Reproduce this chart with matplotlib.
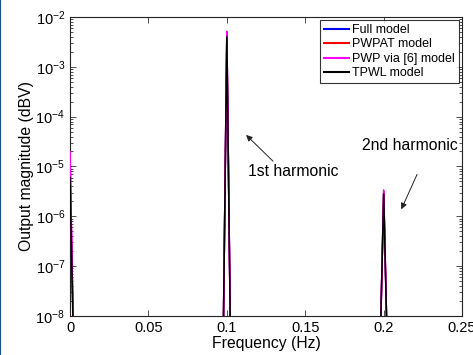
import matplotlib
matplotlib.use("Agg")
import matplotlib.pyplot as plt
from matplotlib.lines import Line2D
from matplotlib.ticker import LogLocator, LogFormatterMathtext
import numpy as np

plt.rcParams["font.family"] = ["Liberation Sans", "DejaVu Sans"]
plt.rcParams["mathtext.fontset"] = "custom"
plt.rcParams["mathtext.rm"] = "Liberation Sans"
plt.rcParams["mathtext.it"] = "Liberation Sans:italic"

# spectrum samples (frequency in Hz, magnitude)
freq = [0.0, 0.0025, 0.0975, 0.1, 0.1025, 0.1975, 0.2, 0.2025]
full_model = [1.5e-5, 1e-9, 1e-9, 5.0e-3, 1e-9, 1e-9, 3.2e-6, 1e-9]
pwpat_model = [1.6e-5, 1e-9, 1e-9, 5.0e-3, 1e-9, 1e-9, 3.2e-6, 1e-9]
pwp_model = [2.0e-5, 1e-9, 1e-9, 5.2e-3, 1e-9, 1e-9, 3.4e-6, 1e-9]
tpwl_model = [6.0e-6, 1e-9, 1e-9, 4.0e-3, 1e-9, 1e-9, 2.8e-6, 1e-9]

series = [
    ("Full model", full_model, "#0000ff"),
    ("PWPAT model", pwpat_model, "#ff0000"),
    ("PWP via [6] model", pwp_model, "#ff00ff"),
    ("TPWL model", tpwl_model, "#000000"),
]

fig = plt.figure(figsize=(4.73, 3.55), dpi=100)
ax = fig.add_axes([0.148, 0.110, 0.829, 0.842])

for name, vals, col in series:
    ax.semilogy(freq, vals, color=col, lw=1.1, label=name, zorder=3)

ax.set_xlim(0, 0.25)
ax.set_ylim(1e-8, 1e-2)
ax.set_xticks([0, 0.05, 0.1, 0.15, 0.2, 0.25])
ax.set_xticklabels(["0", "0.05", "0.1", "0.15", "0.2", "0.25"])
ax.yaxis.set_major_locator(LogLocator(base=10, numticks=10))
ax.yaxis.set_minor_locator(LogLocator(base=10, subs=np.arange(2, 10), numticks=10))
ax.yaxis.set_major_formatter(LogFormatterMathtext())
ax.tick_params(which="both", direction="in", top=True, right=True,
               labelsize=10.5, colors="#333333", labelcolor="black")
ax.tick_params(which="major", length=4, width=0.6)
ax.tick_params(which="minor", length=2, width=0.6)
for sp in ax.spines.values():
    sp.set_linewidth(0.8)
    sp.set_color("#222222")

ax.set_xlabel("Frequency (Hz)", fontsize=11.3, labelpad=1)
ax.set_ylabel("Output magnitude (dBV)", fontsize=11.3, labelpad=1)

leg = ax.legend(loc="upper right", fontsize=9, frameon=True, fancybox=False,
                borderaxespad=0.25, handlelength=2.0, handletextpad=0.3,
                labelspacing=0.2, borderpad=0.3)
leg.get_frame().set_edgecolor("black")
leg.get_frame().set_linewidth(0.8)
for h in leg.get_lines():
    h.set_linewidth(1.5)

arrow = dict(arrowstyle="-|>", color="#222222", lw=0.7, mutation_scale=9)
ax.annotate("", xy=(0.111, 4.7e-5), xytext=(0.1307, 1.17e-5), arrowprops=arrow)
ax.text(0.1135, 8.1e-6, "1st harmonic", fontsize=11.3, va="center", ha="left")
ax.annotate("", xy=(0.2105, 1.23e-6), xytext=(0.222, 7.8e-6), arrowprops=arrow)
ax.text(0.1862, 2.7e-5, "2nd harmonic", fontsize=11.3, va="center", ha="left")

fig.add_artist(Line2D([0.001, 0.001], [0, 1], transform=fig.transFigure,
                      color="#1c4f8a", lw=1.5))

fig.savefig("out.png", dpi=100)
